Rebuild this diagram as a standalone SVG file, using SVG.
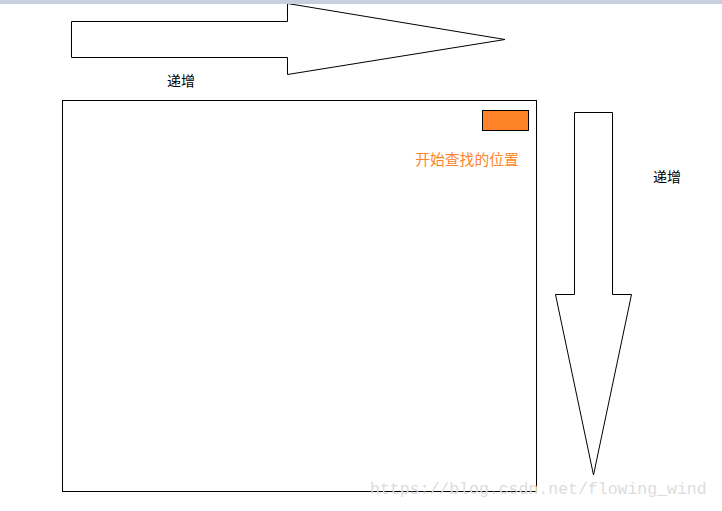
<svg xmlns="http://www.w3.org/2000/svg" width="722" height="511" viewBox="0 0 722 511">
<style>
.shape{fill:#ffffff;stroke:#000000;stroke-width:1}
.lbl{font-family:"Noto Sans CJK SC","Liberation Sans",sans-serif;font-size:14px;fill:#000000}
</style>
<rect x="0" y="0" width="722" height="511" fill="#ffffff"/>
<g id="arrows">
<polygon id="arrow-right" class="shape" points="71.5,21.5 287.5,21.5 287.5,3.5 505,39.5 287.5,74.5 287.5,57.5 71.5,57.5"/>
<polygon id="arrow-down" class="shape" points="574.5,112.5 612.5,112.5 612.5,294.5 631.5,294.5 593.5,475 555.5,294.5 574.5,294.5"/>
</g>
<rect x="0" y="0" width="722" height="4" fill="#c8d0e0"/>
<g id="label-top"><text class="lbl" x="181" y="86" text-anchor="middle">递增</text></g>
<g id="label-right"><text class="lbl" x="667" y="182" text-anchor="middle">递增</text></g>
<g id="area">
<rect class="shape" x="62.5" y="100.5" width="474" height="391"/>
</g>
<g id="start">
<rect x="482.5" y="110.5" width="46" height="20" fill="#ff8429" stroke="#000000" stroke-width="1"/>
<text class="lbl" x="467" y="164.5" text-anchor="middle" style="fill:#ff8429;font-size:14.8px">开始查找的位置</text>
</g>
<text x="370" y="494" font-family="Liberation Mono, monospace" font-size="16.5" fill="#dcdcdc">https://blog.csdn.net/flowing_wind</text>
</svg>
